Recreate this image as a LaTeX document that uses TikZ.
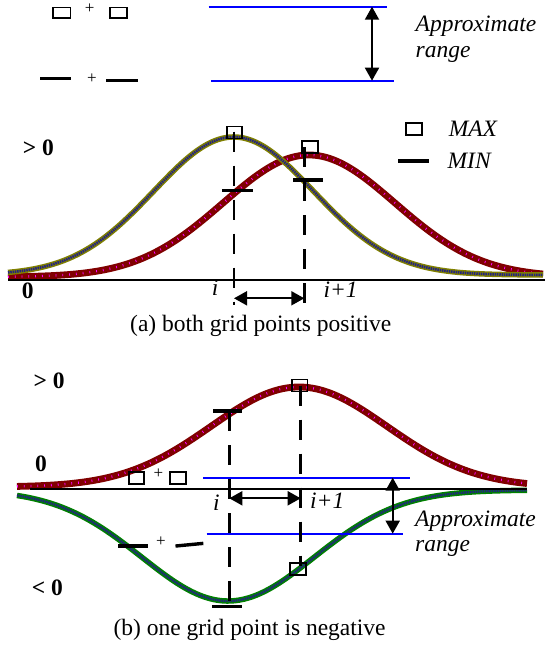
\documentclass[tikz,border=0pt]{standalone}
\usepackage{fontspec}
\setmainfont{Liberation Serif}
\usepackage{tikz}
\usetikzlibrary{positioning,arrows.meta}
\definecolor{colive}{RGB}{128,128,0}
\definecolor{cnavy}{RGB}{35,35,130}
\definecolor{cwine}{RGB}{128,0,0}
\definecolor{cpink}{RGB}{255,0,255}
\definecolor{cgreen}{RGB}{0,128,0}
\definecolor{crange}{RGB}{0,0,255}

\begin{document}
\begin{tikzpicture}[x=1pt,y=-1pt,
  txt/.style={font=\fontsize{23.5}{28}\selectfont,inner sep=0pt,anchor=base west},
  itx/.style={txt,font=\fontsize{23.5}{28}\selectfont\itshape},
  bld/.style={txt,font=\fontsize{23.5}{28}\selectfont\bfseries},
  pls/.style={font=\fontsize{17}{20}\selectfont,inner sep=0pt},
  maxbox/.style={draw,line width=1.8pt,minimum width=15.4pt,minimum height=12pt,inner sep=0pt},
  minbar/.style={fill=black,minimum width=31pt,minimum height=3.4pt,inner sep=0pt},
  gridln/.style={line width=2.6pt,dash pattern=on 20pt off 14pt},
  span/.style={{Triangle[length=13pt,width=14pt]}-{Triangle[length=13pt,width=14pt]},line width=1.9pt},
  rangeln/.style={draw=crange,line width=1.7pt},
  axis/.style={line width=1.9pt},
  olivec/.style={colive,line width=5.5pt,postaction={draw=cnavy,line width=2.6pt,dash pattern=on 1.5pt off 0.8pt}},
  winec/.style={cwine,line width=6.8pt,postaction={draw=cpink,line width=2.4pt,dash pattern=on 0.8pt off 6pt}},
  greenc/.style={cgreen,line width=5.5pt,postaction={draw=cnavy,line width=2.4pt,dash pattern=on 1.5pt off 0.8pt}},
]
\useasboundingbox (0,0) rectangle (545,648);

% top: sums of the markers and the approximate range
\node[maxbox,minimum width=17.4pt,minimum height=10.4pt] (tsq1) at (61.7,12.6) {};
\node[pls] (tpl1) at (89.7,8.5) {+};
\node[maxbox,minimum width=17.4pt,minimum height=10.4pt] (tsq2) at (118.5,12.6) {};
\node[minbar] (tmn1) at (55.7,78.3) {};
\node[pls] (tpl2) at (92,79) {+};
\node[minbar,minimum width=32pt] (tmn2) at (122,80.3) {};

\coordinate (rt1) at (208.6,6.7);
\coordinate (rt2) at (386.5,6.7);
\coordinate (rb1) at (211,80.7);
\coordinate (rb2) at (393.8,80.7);
\coordinate (ra1) at (372,6.7);
\coordinate (ra2) at (372,80.7);
\draw[rangeln] (rt1) -- (rt2);
\draw[rangeln] (rb1) -- (rb2);
\draw[span] (ra1) -- (ra2);
\node[itx] (apx1) at (415.5,31.5) {Approximate};
\node[itx] (rng1) at ([yshift=-25.5pt]apx1.base west) {range};

% panel (a): both grid points positive
\draw[winec] plot[domain=8:543,samples=120,smooth] (\x,{277-122*exp(-0.5*((\x-309)/86)^2)});
\draw[olivec] plot[domain=8:543,samples=120,smooth] (\x,{275-138*exp(-0.5*((\x-233.6)/80)^2)});
\coordinate (ax1) at (8,280);
\coordinate (ax2) at (545,280);
\draw[axis] (ax1) -- (ax2);

\coordinate (agt1) at (234,131.7);
\coordinate (agb1) at (234,305);
\coordinate (agt2) at (304.3,147);
\coordinate (agb2) at (304.3,305);
\draw[gridln] (agt1) -- (agb1);
\draw[gridln] (agt2) -- (agb2);
\node[maxbox] (amx1) at (234.5,132.5) {};
\node[maxbox] (amx2) at (310,146.7) {};
\node[minbar] (amn1) at (237,190.3) {};
\node[minbar,minimum width=29.5pt] (amn2) at (308,180) {};
\coordinate (asp1) at (234,298.3);
\coordinate (asp2) at (304.3,298.3);
\draw[span] (asp1) -- (asp2);

\node[bld] (agt) at (22.6,155) {> 0};
\node[bld] (azr) at (21.7,298.3) {0};
\node[itx] (ai) at (211.7,295) {i};
\node[itx] (aip) at (323.3,297.5) {i+1};
\node[txt] (capa) at (130,331.7) {(a) both grid points positive};

\node[maxbox] (lgmax) at (414,128.8) {};
\node[itx,right=26pt of lgmax] (lgmaxt) {MAX};
\node[minbar] (lgmin) at (413.7,161) {};
\node[itx,right=18pt of lgmin] (lgmint) {MIN};

% panel (b): one grid point negative
\draw[winec] plot[domain=17:527,samples=120,smooth] (\x,{487-100*exp(-0.5*((\x-299)/88)^2)});
\draw[greenc] plot[domain=17:527,samples=120,smooth] (\x,{490+111*exp(-0.5*((\x-228)/86)^2)});
\coordinate (bx1) at (30,489);
\coordinate (bx2) at (527,489);
\draw[axis] (bx1) -- (bx2);

\coordinate (bt1) at (203.3,477.7);
\coordinate (bt2) at (410,477.7);
\coordinate (bb1) at (206.7,533.7);
\coordinate (bb2) at (403.3,533.7);
\coordinate (ba1) at (392.7,477.7);
\coordinate (ba2) at (392.7,533.7);
\draw[rangeln] (bt1) -- (bt2);
\draw[rangeln] (bb1) -- (bb2);
\draw[span] (ba1) -- (ba2);

\coordinate (bgt1) at (229.3,411);
\coordinate (bgb1) at (229.3,606.7);
\coordinate (bgt2) at (300.7,385.5);
\coordinate (bgb2) at (300.7,566);
\draw[gridln] (bgt1) -- (bgb1);
\draw[gridln] (bgt2) -- (bgb2);
\node[maxbox] (bmx1) at (299.8,385.5) {};
\node[maxbox] (bmx2) at (298,569.3) {};
\node[minbar,minimum width=29.5pt] (bmn1) at (227.5,411) {};
\node[minbar,minimum width=30pt] (bmn2) at (227,606.7) {};
\coordinate (bsp1) at (229.3,498.3);
\coordinate (bsp2) at (300.7,498.3);
\draw[span] (bsp1) -- (bsp2);

\node[maxbox] (bsq1) at (136.3,477.7) {};
\node[pls] (bpl1) at (158.3,473.3) {+};
\node[maxbox] (bsq2) at (178,477.7) {};
\node[minbar,minimum width=30pt] (bmd1) at (132.8,546) {};
\node[pls] (bpl2) at (161,541.7) {+};
\node[minbar,minimum width=28pt,rotate=5.5] (bmd2) at (189.4,544.7) {};

\node[bld] (bgt) at (33.3,388.3) {> 0};
\node[bld] (bzr) at (35,471.7) {0};
\node[bld] (blt) at (31.7,595) {< 0};
\node[itx] (bi) at (213,510) {i};
\node[itx] (bip) at (310,508.3) {i+1};
\node[itx] (apx2) at (415,526) {Approximate};
\node[itx] (rng2) at ([yshift=-25.7pt]apx2.base west) {range};
\node[txt] (capb) at (113.3,635) {(b) one grid point is negative};
\end{tikzpicture}
\end{document}
